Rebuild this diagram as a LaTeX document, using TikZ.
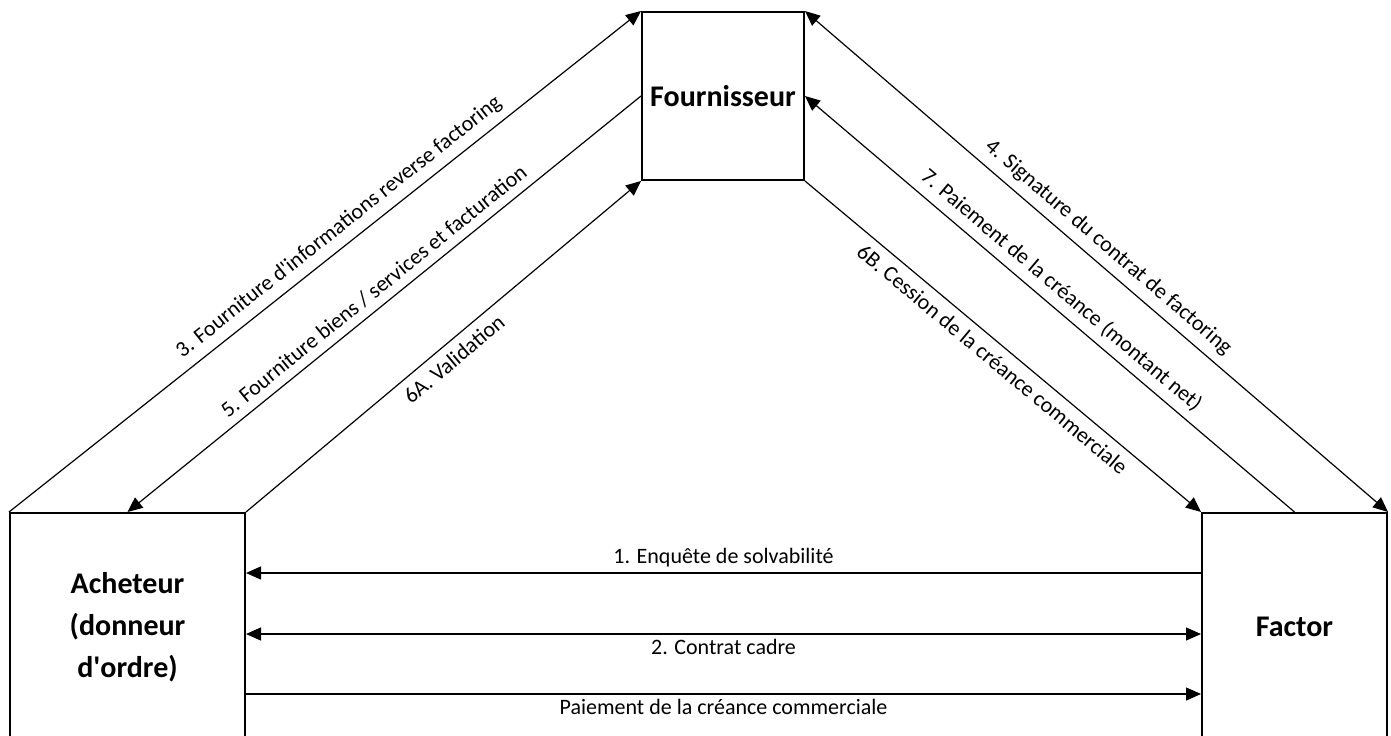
\documentclass[tikz,border=0pt]{standalone}
\usepackage{fontspec}
\setmainfont{Carlito}
\usetikzlibrary{arrows.meta}
\newcommand{\apostr}{\textquotesingle}
\tikzset{
  partie/.style={draw, line width=1pt, align=center,
    font=\fontsize{15}{21}\selectfont\bfseries},
  etiq/.style={font=\fontsize{11}{13}\selectfont, inner sep=2.5pt},
  oblique/.style={etiq, sloped, inner sep=4pt},
}
\begin{document}
\begin{tikzpicture}[x=0.5pt, y=-0.5pt, >={Triangle[length=7.5pt,width=6.5pt]}]
      \useasboundingbox (0,0) rectangle (1391,735);
      \draw
        (723,96) node[partie, minimum width=81pt, minimum height=84pt] (fournisseur){Fournisseur}
        (127.5,627) node[partie, minimum width=117.5pt, minimum height=114pt] (acheteur){Acheteur\\(donneur\\d\apostr ordre)}
        (1294.5,627) node[partie, minimum width=92.5pt, minimum height=114pt] (factor){Factor};
      \begin{scope}[line width=0.6pt]
        \draw[->] (acheteur.north west) -- node[oblique, above, pos=0.54]{3. Fourniture d\apostr informations reverse factoring} (fournisseur.north west);
        \draw[<-] (acheteur.north) -- node[oblique, above]{5. Fourniture biens / services et facturation} (fournisseur.west);
        \draw[->] (acheteur.north east) -- node[oblique, below]{6A. Validation} (fournisseur.south west);
        \draw[<->] (fournisseur.north east) -- node[oblique, above]{4. Signature du contrat de factoring} (factor.north east);
        \draw[<-] (fournisseur.east) -- node[oblique, above]{7. Paiement de la créance (montant net)} (factor.north);
        \draw[->] (fournisseur.south east) -- node[oblique, below]{6B. Cession de la créance commerciale} (factor.north west);
        \draw[->] ([yshift=27pt]factor.west) -- node[etiq, above]{1. Enquête de solvabilité} ([yshift=27pt]acheteur.east);
        \draw[<->] ([yshift=-3.5pt]acheteur.east) -- node[etiq, below]{2. Contrat cadre} ([yshift=-3.5pt]factor.west);
        \draw[->] ([yshift=-33.5pt]acheteur.east) -- node[etiq, below]{Paiement de la créance commerciale} ([yshift=-33.5pt]factor.west);
      \end{scope}
    \end{tikzpicture}
\end{document}
